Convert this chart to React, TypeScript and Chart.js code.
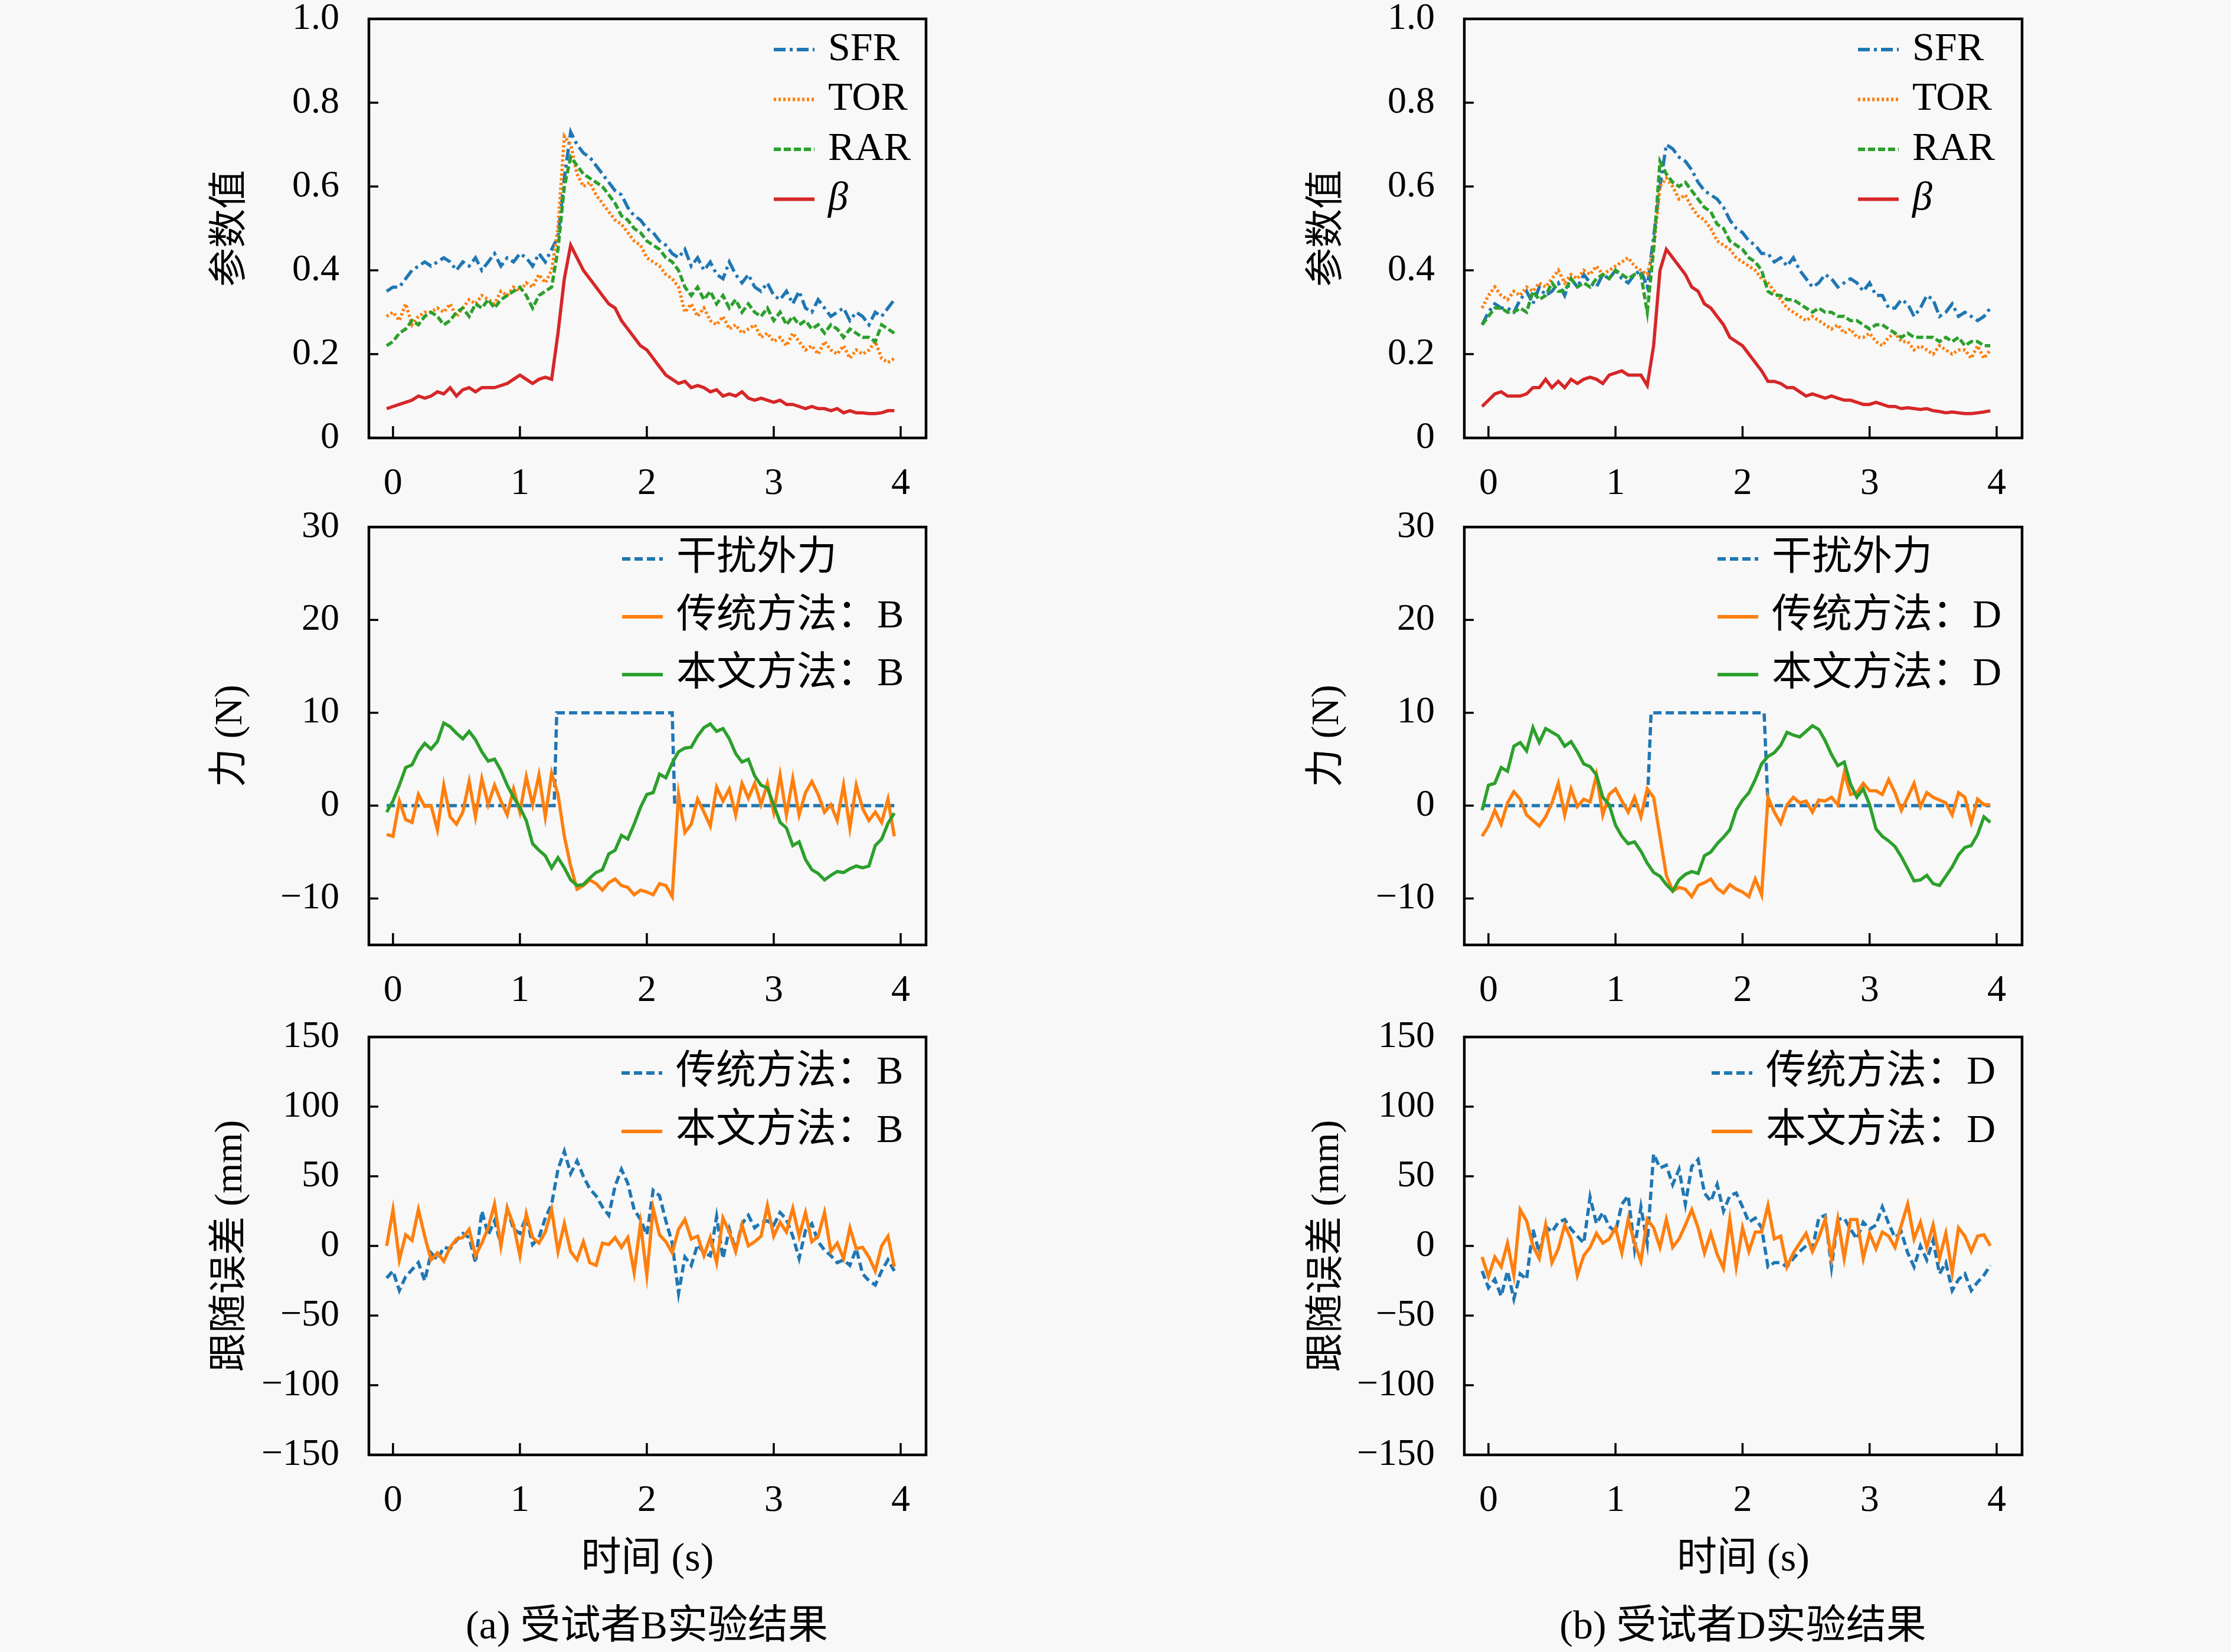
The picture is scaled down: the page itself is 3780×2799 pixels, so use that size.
import React, { useEffect, useRef } from "react";
import { Chart, registerables } from "chart.js";

Chart.register(...registerables);

// time axis (s), shared by every sampled series
const time = [
  -0.05, 0, 0.05, 0.1, 0.15, 0.2, 0.25, 0.3, 0.35, 0.4, 0.45, 0.5, 0.55, 0.6, 0.65, 0.7, 0.75, 0.8, 0.85, 0.9,
  0.95, 1, 1.05, 1.1, 1.15, 1.2, 1.25, 1.3, 1.35, 1.4, 1.45, 1.5, 1.55, 1.6, 1.65, 1.7, 1.75, 1.8, 1.85, 1.9,
  1.95, 2, 2.05, 2.1, 2.15, 2.2, 2.25, 2.3, 2.35, 2.4, 2.45, 2.5, 2.55, 2.6, 2.65, 2.7, 2.75, 2.8, 2.85, 2.9,
  2.95, 3, 3.05, 3.1, 3.15, 3.2, 3.25, 3.3, 3.35, 3.4, 3.45, 3.5, 3.55, 3.6, 3.65, 3.7, 3.75, 3.8, 3.85, 3.9,
  3.95,
];

const xTicks = [0, 1, 2, 3, 4];
const paramTicks = [0, 0.2, 0.4, 0.6, 0.8, 1.0];
const forceTicks = [-10, 0, 10, 20, 30];
const errTicks = [-150, -100, -50, 0, 50, 100, 150];

// subject B - parameters
const sfrB = [
  0.35, 0.36, 0.36, 0.38, 0.40, 0.41, 0.42, 0.41, 0.42, 0.43,
  0.42, 0.40, 0.42, 0.41, 0.43, 0.40, 0.42, 0.44, 0.41, 0.43,
  0.42, 0.44, 0.43, 0.41, 0.44, 0.42, 0.45, 0.48, 0.62, 0.73,
  0.70, 0.68, 0.67, 0.65, 0.63, 0.61, 0.59, 0.58, 0.55, 0.53,
  0.52, 0.50, 0.49, 0.47, 0.46, 0.44, 0.43, 0.45, 0.41, 0.43,
  0.40, 0.42, 0.39, 0.38, 0.42, 0.39, 0.37, 0.39, 0.36, 0.35,
  0.37, 0.34, 0.33, 0.35, 0.32, 0.35, 0.31, 0.30, 0.33, 0.31,
  0.29, 0.30, 0.31, 0.28, 0.30, 0.29, 0.27, 0.30, 0.29, 0.31,
  0.33,
];
const torB = [
  0.29, 0.30, 0.28, 0.32, 0.27, 0.29, 0.30, 0.30, 0.31, 0.30,
  0.32, 0.29, 0.31, 0.33, 0.32, 0.34, 0.33, 0.32, 0.35, 0.34,
  0.36, 0.35, 0.37, 0.36, 0.39, 0.37, 0.40, 0.50, 0.72, 0.70,
  0.63, 0.60, 0.61, 0.58, 0.56, 0.54, 0.52, 0.51, 0.49, 0.47,
  0.46, 0.43, 0.42, 0.41, 0.39, 0.38, 0.36, 0.30, 0.32, 0.29,
  0.31, 0.28, 0.27, 0.29, 0.26, 0.27, 0.25, 0.26, 0.27, 0.24,
  0.25, 0.23, 0.24, 0.22, 0.25, 0.23, 0.21, 0.22, 0.20, 0.23,
  0.21, 0.20, 0.22, 0.19, 0.21, 0.20, 0.21, 0.23, 0.19, 0.18,
  0.19,
];
const rarB = [
  0.22, 0.23, 0.25, 0.26, 0.28, 0.27, 0.29, 0.30, 0.29, 0.27,
  0.28, 0.30, 0.31, 0.29, 0.32, 0.31, 0.33, 0.31, 0.33, 0.34,
  0.35, 0.36, 0.34, 0.31, 0.34, 0.35, 0.36, 0.45, 0.60, 0.67,
  0.65, 0.63, 0.62, 0.61, 0.60, 0.58, 0.56, 0.53, 0.52, 0.50,
  0.49, 0.47, 0.46, 0.45, 0.43, 0.42, 0.40, 0.36, 0.34, 0.36,
  0.33, 0.35, 0.32, 0.34, 0.31, 0.33, 0.30, 0.32, 0.30, 0.29,
  0.31, 0.28, 0.30, 0.27, 0.29, 0.27, 0.28, 0.26, 0.27, 0.25,
  0.27, 0.26, 0.24, 0.26, 0.25, 0.24, 0.24, 0.23, 0.27, 0.26,
  0.25,
];
const betaB = [
  0.07, 0.075, 0.08, 0.085, 0.09, 0.10, 0.095, 0.10, 0.11, 0.105,
  0.12, 0.10, 0.115, 0.12, 0.11, 0.12, 0.12, 0.12, 0.125, 0.13,
  0.14, 0.15, 0.14, 0.13, 0.14, 0.145, 0.14, 0.25, 0.38, 0.46,
  0.43, 0.40, 0.38, 0.36, 0.34, 0.32, 0.31, 0.28, 0.26, 0.24,
  0.22, 0.21, 0.19, 0.17, 0.15, 0.14, 0.13, 0.135, 0.12, 0.125,
  0.12, 0.11, 0.115, 0.10, 0.105, 0.10, 0.11, 0.095, 0.09, 0.095,
  0.09, 0.085, 0.09, 0.08, 0.08, 0.075, 0.07, 0.075, 0.07, 0.07,
  0.065, 0.07, 0.06, 0.065, 0.06, 0.06, 0.058, 0.058, 0.06, 0.065,
  0.065,
];

// subject D - parameters
const sfrD = [
  0.27, 0.30, 0.32, 0.31, 0.31, 0.30, 0.33, 0.35, 0.32, 0.36,
  0.34, 0.35, 0.37, 0.34, 0.38, 0.36, 0.39, 0.37, 0.36, 0.39,
  0.38, 0.40, 0.38, 0.37, 0.39, 0.40, 0.36, 0.48, 0.60, 0.70,
  0.69, 0.67, 0.66, 0.64, 0.61, 0.59, 0.58, 0.57, 0.55, 0.52,
  0.50, 0.49, 0.47, 0.46, 0.44, 0.44, 0.42, 0.43, 0.41, 0.43,
  0.40, 0.38, 0.36, 0.37, 0.39, 0.38, 0.36, 0.37, 0.38, 0.37,
  0.35, 0.37, 0.34, 0.34, 0.31, 0.31, 0.33, 0.32, 0.29, 0.31,
  0.34, 0.33, 0.29, 0.30, 0.32, 0.29, 0.30, 0.29, 0.28, 0.29,
  0.31,
];
const torD = [
  0.31, 0.34, 0.36, 0.34, 0.33, 0.35, 0.34, 0.36, 0.35, 0.37,
  0.36, 0.38, 0.40, 0.37, 0.39, 0.38, 0.40, 0.39, 0.41, 0.39,
  0.40, 0.41, 0.42, 0.43, 0.41, 0.40, 0.39, 0.45, 0.60, 0.62,
  0.60, 0.57, 0.58, 0.55, 0.53, 0.52, 0.50, 0.47, 0.46, 0.45,
  0.43, 0.42, 0.41, 0.40, 0.38, 0.37, 0.35, 0.33, 0.31, 0.30,
  0.29, 0.28, 0.29, 0.28, 0.27, 0.26, 0.27, 0.25, 0.26, 0.24,
  0.24, 0.25, 0.23, 0.22, 0.24, 0.25, 0.23, 0.23, 0.21, 0.22,
  0.21, 0.20, 0.22, 0.21, 0.20, 0.21, 0.21, 0.19, 0.22, 0.19,
  0.21,
];
const rarD = [
  0.27, 0.29, 0.31, 0.31, 0.30, 0.30, 0.31, 0.30, 0.35, 0.33,
  0.34, 0.37, 0.35, 0.35, 0.38, 0.36, 0.37, 0.36, 0.38, 0.39,
  0.38, 0.40, 0.39, 0.38, 0.39, 0.39, 0.30, 0.45, 0.66, 0.63,
  0.61, 0.60, 0.61, 0.59, 0.57, 0.55, 0.54, 0.51, 0.50, 0.47,
  0.46, 0.45, 0.43, 0.42, 0.40, 0.35, 0.34, 0.34, 0.33, 0.33,
  0.32, 0.31, 0.30, 0.31, 0.30, 0.30, 0.29, 0.29, 0.28, 0.28,
  0.27, 0.26, 0.27, 0.27, 0.26, 0.25, 0.24, 0.25, 0.24, 0.24,
  0.24, 0.24, 0.23, 0.24, 0.23, 0.24, 0.22, 0.23, 0.23, 0.22,
  0.22,
];
const betaD = [
  0.075, 0.09, 0.105, 0.11, 0.10, 0.10, 0.10, 0.105, 0.12, 0.12,
  0.14, 0.12, 0.135, 0.12, 0.14, 0.13, 0.14, 0.145, 0.14, 0.13,
  0.15, 0.155, 0.16, 0.15, 0.15, 0.15, 0.125, 0.22, 0.40, 0.45,
  0.43, 0.41, 0.39, 0.36, 0.35, 0.32, 0.31, 0.29, 0.27, 0.24,
  0.23, 0.22, 0.20, 0.18, 0.16, 0.135, 0.135, 0.13, 0.12, 0.12,
  0.11, 0.10, 0.105, 0.10, 0.095, 0.10, 0.095, 0.09, 0.09, 0.085,
  0.08, 0.08, 0.085, 0.08, 0.075, 0.075, 0.07, 0.072, 0.07, 0.068,
  0.07, 0.065, 0.063, 0.06, 0.062, 0.06, 0.058, 0.058, 0.06, 0.062,
  0.065,
];

// force (N)
const distTimeB = [-0.05, 1.27, 1.29, 2.2, 2.22, 3.95];
const distForceB = [0, 0, 10, 10, 0, 0];
const distTimeD = [-0.05, 1.25, 1.28, 2.17, 2.2, 3.95];
const distForceD = [0, 0, 10, 10, 0, 0];

const tradForceB = [
  -3.1, -3.3, 0.5, -1.5, -1.8, 1.2, -0.1, 0.0, -2.6, 2.2,
  -1.2, -2.0, -0.7, 2.6, -1.2, 2.9, 0.1, 2.2, 0.5, -1.0,
  1.8, -0.7, 3.1, 0.1, 3.3, -1.2, 3.5, 1.2, -3.3, -6.5,
  -9.0, -8.6, -8.0, -8.4, -9.1, -8.3, -7.9, -8.6, -8.8, -9.6,
  -9.1, -9.3, -9.6, -8.4, -8.6, -9.8, 1.2, -2.9, -2.0, 0.7,
  -0.7, -2.2, 2.0, 0.5, 1.8, -1.0, 2.4, 0.8, 2.4, 0.1,
  2.4, -0.7, 3.3, -1.0, 2.9, -1.0, 1.4, 2.6, 1.2, -0.7,
  0.1, -1.6, 2.2, -2.4, 2.2, -0.3, -1.6, -0.7, -1.8, 0.7,
  -3.3,
];
const propForceB = [
  -0.7, 0.5, 2.2, 4.1, 4.4, 5.8, 6.7, 6.1, 6.9, 8.9,
  8.5, 7.8, 7.2, 8.0, 7.1, 5.8, 4.8, 5.0, 3.8, 2.2,
  0.9, -0.2, -1.6, -4.1, -4.8, -5.4, -6.7, -5.6, -6.7, -8.0,
  -8.6, -8.5, -7.8, -7.2, -6.9, -5.2, -4.8, -3.2, -3.6, -2.0,
  -0.2, 1.2, 1.4, 3.4, 3.0, 4.6, 5.8, 6.2, 6.3, 7.5,
  8.4, 8.8, 8.0, 8.3, 7.2, 5.6, 4.7, 5.0, 3.2, 2.2,
  1.9, 0.1, -1.8, -2.4, -4.3, -3.9, -5.8, -6.9, -7.3, -8.0,
  -7.5, -7.1, -7.2, -6.8, -6.5, -6.7, -6.5, -4.3, -3.6, -1.9,
  -0.8,
];
const tradForceD = [
  -3.3, -2.2, -0.5, -2.0, 0.3, 1.5, 0.7, -1.0, -1.6, -2.2,
  -1.2, 0.3, 2.4, -1.0, 1.8, -0.1, 0.7, 0.4, 3.3, -1.0,
  1.2, 1.8, 0.5, -0.7, 0.9, -1.2, 1.8, 0.9, -3.3, -7.5,
  -9.2, -8.8, -9.0, -9.8, -8.6, -8.3, -7.9, -8.9, -9.4, -8.5,
  -9.0, -9.3, -9.8, -7.9, -9.6, 0.9, -0.7, -1.9, 0.1, 0.9,
  0.3, 0.5, -0.7, 0.6, 0.5, 0.9, 0.1, 3.5, 1.2, 1.4,
  2.4, 1.6, 1.6, 1.2, 2.8, 1.4, -0.5, 0.9, 2.4, -0.1,
  1.4, 0.9, 0.6, 0.3, -1.0, 1.4, 0.9, -1.8, 0.7, 0.1,
  0.1,
];
const propForceD = [
  -0.5, 2.2, 2.4, 4.1, 3.7, 6.4, 6.8, 5.9, 8.4, 6.8,
  8.3, 7.9, 7.5, 6.4, 6.9, 5.8, 4.5, 4.2, 3.3, 0.9,
  0.1, -2.1, -3.3, -4.1, -3.9, -4.9, -6.2, -7.2, -7.6, -8.5,
  -9.2, -8.0, -7.4, -7.1, -7.3, -5.4, -5.0, -4.1, -3.4, -2.6,
  -0.5, 0.6, 1.4, 2.8, 4.5, 5.3, 5.7, 6.5, 7.9, 7.6,
  7.4, 8.0, 8.6, 8.2, 7.0, 5.5, 4.3, 4.7, 2.3, 0.9,
  1.8, 0.1, -2.5, -3.3, -3.8, -4.4, -5.5, -6.8, -8.1, -8.0,
  -7.5, -8.4, -8.6, -7.6, -6.6, -5.3, -4.5, -4.3, -3.1, -1.2,
  -1.8,
];

// tracking error (mm)
const tradErrB = [
  -23, -18, -32, -22, -17, -12, -25, -5, -10, -1,
  -2, 4, 9, 6, -12, 25, 8, 18, 1, 27,
  12, 9, 21, 1, 6, 20, 30, 55, 68, 52,
  61, 50, 41, 36, 28, 22, 43, 55, 45, 26,
  19, 8, 40, 36, 18, 2, -34, -8, -14, 1,
  -5, -7, 21, -9, 12, -3, 16, 22, 13, 17,
  18, 15, 24, 19, 7, -9, 11, 16, 3, -3,
  -7, -12, -10, -14, -2, -20, -25, -28, -18, -10,
  -18,
];
const propErrB = [
  0, 26, -10, 8, 4, 26, 7, -10, -5, -11,
  -1, 5, 6, 12, -7, 2, 13, 30, 0, 27,
  15, -7, 23, 6, 2, 10, 26, -4, 16, -4,
  -10, 3, -12, -14, 2, 1, 6, -1, 6, -19,
  16, -21, 27, 8, 3, -5, 12, 19, 5, 7,
  -7, 6, -12, 20, 10, -4, 15, 0, 3, 7,
  29, 7, 17, 10, 27, 7, 24, 3, 7, 24,
  -4, 2, -9, 13, -2, -1, -8, -18, 0, 7,
  -15,
];
const tradErrD = [
  -18, -30, -24, -36, -18, -38, -20, -24, 12, -5,
  14, 10, 17, 19, 12, 7, 2, 35, 16, 24,
  14, 10, 30, 36, -2, 28, 2, 66, 56, 58,
  44, 55, 30, 57, 62, 38, 32, 44, 25, 36,
  38, 28, 17, 20, 13, -15, -12, -12, -15, -9,
  -4, 0, -2, 20, 22, -15, 19, 20, 12, 5,
  17, 12, 15, 28, 16, 6, 10, -5, -15, 0,
  -10, 4, -20, -12, -32, -24, -20, -32, -26, -21,
  -14,
];
const propErrD = [
  -8, -22, -8, -15, 2, -21, 26, 18, 0, -9,
  15, -12, -2, 15, 5, -21, -7, -1, 9, 2,
  5, 13, -5, 19, 2, -11, 19, 13, -1, 19,
  -1, 5, 15, 26, 13, -5, 9, -6, -16, 19,
  -15, 13, -4, 10, 10, 29, 5, 7, -15, -5,
  2, 9, -4, 6, 19, -9, 19, -9, 19, 19,
  -9, 9, -2, 10, 7, -1, 15, 30, 5, 17,
  -1, 15, -9, 9, -19, 13, 7, -4, 7, 8,
  0,
];

const BLUE = "#1f77b4";
const ORANGE = "#ff7f0e";
const GREEN = "#2ca02c";
const RED = "#d62728";
const FONT = '"Liberation Serif", "Noto Sans CJK SC", serif';
const BG = "#f8f8f8";

type Series = { label: string; values: number[]; times?: number[]; color: string; dash: number[] };
type LegendPos = { right: number; top: number; gap: number };

type PanelProps = {
  left: number;
  top: number;
  width: number;
  height: number;
  padTop: number;
  padRight: number;
  yWidth: number;
  xHeight: number;
  series: Series[];
  yMin: number;
  yMax: number;
  yTicks: number[];
  yTitle: string;
  fmt: (v: number) => string;
  legend: LegendPos;
  xTitle?: string;
};

// box around the plot area + inward tick marks
const framePlugin = {
  id: "frame",
  afterDatasetsDraw(chart: any) {
    const { ctx, chartArea: a, scales } = chart;
    ctx.save();
    ctx.strokeStyle = "#000";
    ctx.lineWidth = 4.5;
    ctx.strokeRect(a.left, a.top, a.right - a.left, a.bottom - a.top);
    ctx.lineWidth = 3.5;
    scales.x.ticks.forEach((t: any) => {
      const px = scales.x.getPixelForValue(t.value);
      ctx.beginPath();
      ctx.moveTo(px, a.bottom);
      ctx.lineTo(px, a.bottom - 20);
      ctx.stroke();
    });
    scales.y.ticks.forEach((t: any) => {
      const py = scales.y.getPixelForValue(t.value);
      ctx.beginPath();
      ctx.moveTo(a.left, py);
      ctx.lineTo(a.left + 16, py);
      ctx.stroke();
    });
    ctx.restore();
  },
};

// legend drawn inside the plot, top right, no frame
const lineLegendPlugin = {
  id: "lineLegend",
  afterDatasetsDraw(chart: any, _args: any, opts: any) {
    const { ctx, chartArea: a } = chart;
    const x0 = a.right - opts.right;
    chart.data.datasets.forEach((ds: any, i: number) => {
      const y = a.top + opts.top + i * opts.gap;
      ctx.save();
      ctx.strokeStyle = ds.borderColor;
      ctx.lineWidth = 6;
      ctx.setLineDash(ds.borderDash || []);
      ctx.beginPath();
      ctx.moveTo(x0, y);
      ctx.lineTo(x0 + 69, y);
      ctx.stroke();
      ctx.setLineDash([]);
      ctx.fillStyle = "#000";
      ctx.font = (/^[α-ω]$/.test(ds.label) ? "italic " : "") + "68px " + FONT;
      ctx.textBaseline = "middle";
      ctx.fillText(ds.label, x0 + 92, y);
      ctx.restore();
    });
  },
};

const Panel = (props: PanelProps) => {
  const { left, top, width, height, padTop, padRight, yWidth, xHeight, series, yMin, yMax, yTicks, yTitle, fmt, legend, xTitle } = props;
  const canvasRef = useRef<HTMLCanvasElement | null>(null);

  useEffect(() => {
    if (!canvasRef.current) return;
    const chart = new Chart(canvasRef.current, {
      type: "line",
      data: {
        datasets: series.map((s, i) => ({
          label: s.label,
          data: (s.times ?? time).map((t, j) => ({ x: t, y: s.values[j] })),
          borderColor: s.color,
          borderDash: s.dash,
          borderWidth: 5.5,
          pointRadius: 0,
          tension: 0,
          fill: false,
          order: series.length - i,
        })),
      },
      options: {
        animation: false,
        responsive: false,
        devicePixelRatio: 1,
        layout: { padding: { top: padTop, right: padRight, bottom: 0, left: 0 } },
        plugins: {
          legend: { display: false },
          tooltip: { enabled: false },
          lineLegend: legend,
        } as any,
        scales: {
          x: {
            type: "linear",
            min: -0.19,
            max: 4.2,
            grid: { display: false, drawTicks: false },
            border: { display: false },
            ticks: { padding: 40, color: "#000", maxRotation: 0, font: { family: FONT, size: 64 } },
            afterBuildTicks: (s: any) => {
              s.ticks = xTicks.map((v) => ({ value: v }));
            },
            afterFit: (s: any) => {
              s.height = xHeight;
              s.paddingLeft = 0;
              s.paddingRight = 0;
            },
            title: {
              display: !!xTitle,
              text: xTitle ?? "",
              color: "#000",
              font: { family: FONT, size: 68 },
              padding: { top: 0, bottom: 16 },
            },
          },
          y: {
            type: "linear",
            min: yMin,
            max: yMax,
            grid: { display: false, drawTicks: false },
            border: { display: false },
            ticks: {
              padding: 50,
              color: "#000",
              font: { family: FONT, size: 64 },
              callback: (v: any) => fmt(Number(v)),
            },
            afterBuildTicks: (s: any) => {
              s.ticks = yTicks.map((v) => ({ value: v }));
            },
            afterFit: (s: any) => {
              s.width = yWidth;
              s.paddingTop = 0;
              s.paddingBottom = 0;
            },
            title: {
              display: true,
              text: yTitle,
              color: "#000",
              font: { family: FONT, size: 66 },
              padding: { top: 22, bottom: 0 },
            },
          },
        },
      },
      plugins: [framePlugin, lineLegendPlugin],
    });
    return () => {
      chart.destroy();
    };
  }, []);

  return (
    <canvas
      ref={canvasRef}
      width={width}
      height={height}
      style={{ position: "absolute", left, top, width, height }}
    />
  );
};

const minus = (v: number) => (v < 0 ? "\u2212" + Math.abs(v) : String(v));
const oneDecimal = (v: number) => (v === 0 ? "0" : v.toFixed(1));

const COLS = [
  { left: 330, yWidth: 295, width: 1300, padRight: 61, center: 1096 },
  { left: 2188, yWidth: 293, width: 1302, padRight: 64, center: 2953 },
];
const ROWS = [
  { top: 0, padTop: 32, box: 710, xHeight: 120 },
  { top: 843, padTop: 50, box: 708, xHeight: 120 },
  { top: 1707, padTop: 50, box: 708, xHeight: 235 },
];

const paramSeries = (sfr: number[], tor: number[], rar: number[], beta: number[]): Series[] => [
  { label: "SFR", values: sfr, color: BLUE, dash: [20, 7, 5, 7] },
  { label: "TOR", values: tor, color: ORANGE, dash: [4, 4] },
  { label: "RAR", values: rar, color: GREEN, dash: [12, 5] },
  { label: "β", values: beta, color: RED, dash: [] },
];

const App = () => {
  const subjects = [
    {
      id: "B",
      caption: "(a) 受试者B实验结果",
      params: paramSeries(sfrB, torB, rarB, betaB),
      force: [
        { label: "干扰外力", values: distForceB, times: distTimeB, color: BLUE, dash: [14, 7] },
        { label: "传统方法：B", values: tradForceB, color: ORANGE, dash: [] },
        { label: "本文方法：B", values: propForceB, color: GREEN, dash: [] },
      ],
      err: [
        { label: "传统方法：B", values: tradErrB, color: BLUE, dash: [14, 7] },
        { label: "本文方法：B", values: propErrB, color: ORANGE, dash: [] },
      ],
      legends: [
        { right: 258, top: 52, gap: 84.5 },
        { right: 515, top: 54, gap: 98 },
        { right: 516, top: 61, gap: 99 },
      ],
    },
    {
      id: "D",
      caption: "(b) 受试者D实验结果",
      params: paramSeries(sfrD, torD, rarD, betaD),
      force: [
        { label: "干扰外力", values: distForceD, times: distTimeD, color: BLUE, dash: [14, 7] },
        { label: "传统方法：D", values: tradForceD, color: ORANGE, dash: [] },
        { label: "本文方法：D", values: propForceD, color: GREEN, dash: [] },
      ],
      err: [
        { label: "传统方法：D", values: tradErrD, color: BLUE, dash: [14, 7] },
        { label: "本文方法：D", values: propErrD, color: ORANGE, dash: [] },
      ],
      legends: [
        { right: 278, top: 52, gap: 84.5 },
        { right: 516, top: 54, gap: 98 },
        { right: 526, top: 61, gap: 99 },
      ],
    },
  ];

  return (
    <div style={{ position: "absolute", left: 0, top: 0, width: 3780, height: 2799, background: BG, overflow: "hidden" }}>
      {subjects.map((sub, c) => {
        const col = COLS[c];
        const rows = [
          { series: sub.params, yMin: 0, yMax: 1, yTicks: paramTicks, yTitle: "参数值", fmt: oneDecimal },
          { series: sub.force, yMin: -15, yMax: 30, yTicks: forceTicks, yTitle: "力 (N)", fmt: minus },
          { series: sub.err, yMin: -150, yMax: 150, yTicks: errTicks, yTitle: "跟随误差 (mm)", fmt: minus, xTitle: "时间 (s)" },
        ];
        return (
          <React.Fragment key={sub.id}>
            {rows.map((r, k) => {
              const row = ROWS[k];
              return (
                <Panel
                  key={k}
                  left={col.left}
                  top={row.top}
                  width={col.width}
                  height={row.padTop + row.box + row.xHeight}
                  padTop={row.padTop}
                  padRight={col.padRight}
                  yWidth={col.yWidth}
                  xHeight={row.xHeight}
                  series={r.series}
                  yMin={r.yMin}
                  yMax={r.yMax}
                  yTicks={r.yTicks}
                  yTitle={r.yTitle}
                  fmt={r.fmt}
                  legend={sub.legends[k]}
                  xTitle={(r as any).xTitle}
                />
              );
            })}
            <div
              style={{
                position: "absolute",
                left: col.center,
                top: 2718,
                transform: "translateX(-50%)",
                fontFamily: FONT,
                fontSize: 68,
                lineHeight: "70px",
                whiteSpace: "nowrap",
                color: "#000",
              }}
            >
              {sub.caption}
            </div>
          </React.Fragment>
        );
      })}
    </div>
  );
};

export default App;
